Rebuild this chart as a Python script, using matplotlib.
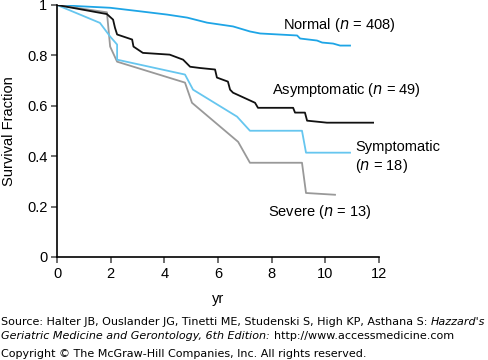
import matplotlib
matplotlib.use("Agg")
import matplotlib.pyplot as plt

plt.rcParams['font.family'] = ['Liberation Sans', 'DejaVu Sans']

normal_x = [0, 0.86, 1.98, 3.09, 4.10, 4.85, 5.59, 6.56, 7.19, 7.57, 8.95, 9.06, 9.69, 9.88, 10.29, 10.55, 10.92]
normal_y = [1.0, 0.995, 0.989, 0.975, 0.962, 0.950, 0.930, 0.915, 0.895, 0.887, 0.879, 0.867, 0.859, 0.851, 0.847, 0.839, 0.839]

asym_x = [0, 1.86, 2.09, 2.16, 2.24, 2.80, 2.85, 3.20, 4.20, 4.70, 4.96, 5.33, 5.89, 5.96, 6.37, 6.45, 6.56, 7.38, 7.49, 8.80, 8.87, 9.24, 9.32, 10.06, 11.78]
asym_y = [1.0, 0.964, 0.942, 0.910, 0.883, 0.863, 0.835, 0.810, 0.803, 0.783, 0.755, 0.750, 0.744, 0.712, 0.696, 0.664, 0.652, 0.612, 0.592, 0.592, 0.573, 0.573, 0.541, 0.533, 0.533]

symp_x = [0, 1.60, 1.98, 2.24, 2.24, 4.77, 5.07, 6.71, 7.19, 9.13, 9.28, 10.92]
symp_y = [1.0, 0.929, 0.875, 0.843, 0.783, 0.724, 0.664, 0.557, 0.501, 0.501, 0.414, 0.414]

sev_x = [0, 1.86, 1.98, 2.24, 4.77, 5.03, 6.75, 7.19, 9.13, 9.28, 10.36]
sev_y = [1.0, 0.971, 0.835, 0.775, 0.692, 0.612, 0.457, 0.374, 0.374, 0.254, 0.247]

x_ticks = [0, 2, 4, 6, 8, 10, 12]
y_ticks = [0, 0.2, 0.4, 0.6, 0.8, 1.0]
y_tick_labels = ["0", "0.2", "0.4", "0.6", "0.8", "1"]

fig = plt.figure(figsize=(4.88, 3.6), dpi=100)
ax = fig.add_axes([57/488, 103/360, 322/488, 252/360])

ax.plot(normal_x, normal_y, color='#1ea5e6', lw=1.3)
ax.plot(sev_x, sev_y, color='#999999', lw=1.3)
ax.plot(symp_x, symp_y, color='#66c6ef', lw=1.3)
ax.plot(asym_x, asym_y, color='#111111', lw=1.3)

ax.set_xlim(0, 12)
ax.set_ylim(0, 1)
ax.set_xticks(x_ticks)
ax.set_yticks(y_ticks)
ax.set_yticklabels(y_tick_labels)
for s in ['top', 'right']:
    ax.spines[s].set_visible(False)
for s in ['left', 'bottom']:
    ax.spines[s].set_linewidth(1.2)
ax.tick_params(direction='out', length=4, width=1.2, color='#555555', labelsize=10.5, pad=3)

ax.set_xlabel('yr', fontsize=10.5, labelpad=8)
ax.set_ylabel('Survival Fraction', fontsize=10.5, labelpad=8)

fs = 10.5
ax.text(8.42, 0.922, 'Normal ($\\it{n}$ = 408)', fontsize=fs, va='center', ha='left')
ax.text(8.0, 0.664, 'Asymptomatic ($\\it{n}$ = 49)', fontsize=fs, va='center', ha='left')
ax.text(11.1, 0.437, 'Symptomatic', fontsize=fs, va='center', ha='left', clip_on=False)
ax.text(11.1, 0.362, '($\\it{n}$ = 18)', fontsize=fs, va='center', ha='left', clip_on=False)
ax.text(7.86, 0.179, 'Severe ($\\it{n}$ = 13)', fontsize=fs, va='center', ha='left')

sfs = 8.0
src = fig.text(1/488, 1 - 322/360, "Source: Halter JB, Ouslander JG, Tinetti ME, Studenski S, High KP, Asthana S: ",
               fontsize=sfs, family='DejaVu Sans', va='center', ha='left')
ge = fig.text(1/488, 1 - 336/360, "Geriatric Medicine and Gerontology, 6th Edition:",
              fontsize=sfs, family='DejaVu Sans', style='italic', va='center', ha='left')
fig.text(1/488, 1 - 354/360, "Copyright \u00a9 The McGraw-Hill Companies, Inc. All rights reserved.",
         fontsize=sfs, family='DejaVu Sans', va='center', ha='left')

fig.canvas.draw()
r = fig.canvas.get_renderer()
bb = src.get_window_extent(r)
fig.text(bb.x1 / fig.bbox.width, 1 - 322/360, "Hazzard's", fontsize=sfs, family='DejaVu Sans',
         style='italic', va='center', ha='left')
bb2 = ge.get_window_extent(r)
fig.text(bb2.x1 / fig.bbox.width + 0.008, 1 - 336/360, "http://www.accessmedicine.com", fontsize=sfs,
         family='DejaVu Sans', va='center', ha='left')

fig.savefig('out.png', dpi=100)
